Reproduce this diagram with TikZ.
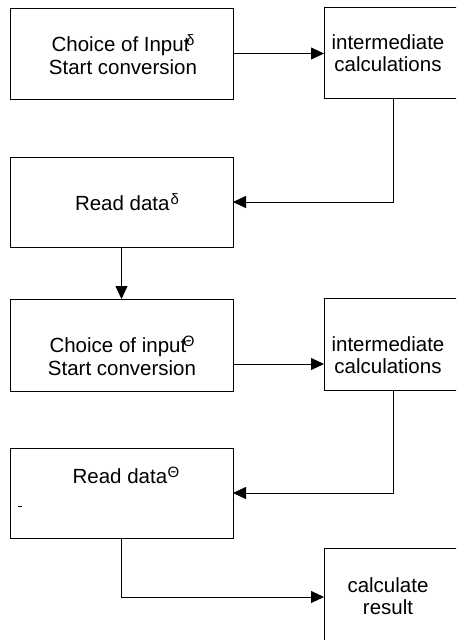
\documentclass[tikz,border=0pt]{standalone}
\usepackage{fontspec}
\setmainfont{Liberation Sans}
\usetikzlibrary{arrows.meta}
% raised Greek marker after a word; optional argument is the kern before it
\newcommand{\supgr}[2][0pt]{\kern#1\raisebox{0.3em}{\fontsize{15}{15}\selectfont #2}}

\begin{document}
\begin{tikzpicture}[x=1pt,y=-1pt,
  box/.style={draw, line width=0.8pt, inner sep=0pt, outer sep=0pt},
  wide/.style={box, minimum width=223pt},
  narrow/.style={box, minimum width=138pt},
  label/.style={align=center, inner sep=0pt, font=\fontsize{20.5}{22.5}\selectfont},
  link/.style={line width=0.8pt},
  arr/.style={link, -{Triangle[length=13pt,width=12pt]}}]
\useasboundingbox (0,0) rectangle (456,640);
\clip (0,0) rectangle (456,640);

% boxes
\node[wide, minimum height=91pt]   (A) at (121.5,53.5) {};
\node[narrow, minimum height=91pt] (B) at (393,52.5) {};
\node[wide, minimum height=90pt]   (C) at (121.5,202) {};
\node[wide, minimum height=92pt]   (D) at (121.5,345) {};
\node[narrow, minimum height=92pt] (E) at (393,344) {};
\node[wide, minimum height=90pt]   (F) at (121.5,493) {};
\node[narrow, minimum height=96pt] (G) at (393,596) {};

% texts
\node[label] (tA) at (123,54.5) {Choice of Input\supgr[-3.5pt]{δ}\\Start conversion};
\node[label] (tB) at (388,53) {intermediate\\calculations};
\node[label] (tC) at (127,202) {Read data\supgr[1pt]{δ}};
\node[label] (tD) at (122,356) {Choice of input\supgr[-3.5pt]{Θ}\\Start conversion};
\node[label] (tE) at (388,355) {intermediate\\calculations};
\node[label] (tF) at (126,475) {Read data\supgr[0.5pt]{Θ}};
\node[label] (tG) at (388,596) {calculate\\result};

% connectors
\draw[arr] (A.east) -- (A.east -| B.west);
\draw[arr] (B.south) |- (C.east);
\draw[arr] (C.south) -- (D.north);
\draw[arr] ([yshift=-19pt]D.east) -- ([yshift=-19pt]D.east -| E.west);
\draw[arr] (E.south) |- (F.east);
\draw[arr] (F.south) |- ([yshift=-1pt]G.west);

% stray mark
\coordinate (m1) at (18,506);
\coordinate (m2) at (22,506);
\draw[line width=0.8pt] (m1) -- (m2);
\end{tikzpicture}
\end{document}
